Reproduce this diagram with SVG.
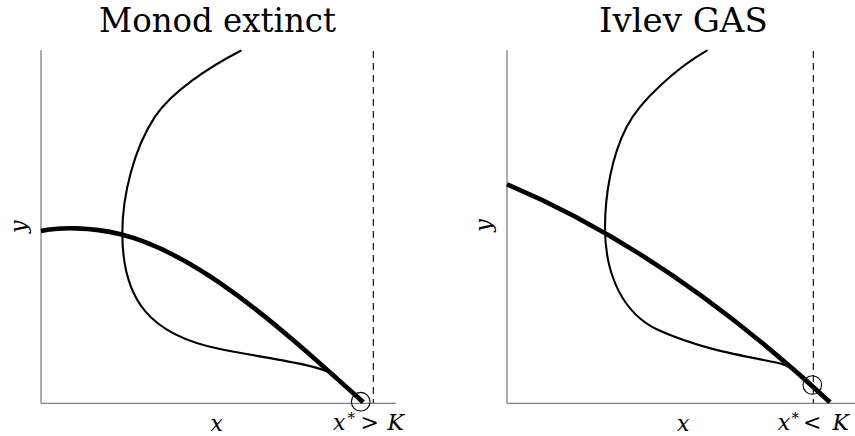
<svg xmlns="http://www.w3.org/2000/svg" width="855" height="436" viewBox="0 0 855 436">
<style>
.axis{stroke:#808080;stroke-width:1.3;fill:none}
.dash{stroke:#000;stroke-width:1.1;stroke-dasharray:7 5;fill:none}
.thin{stroke:#000;stroke-width:2.1;fill:none;stroke-linecap:round}
.thick{stroke:#000;stroke-width:4.6;fill:none}
.eq{stroke:#000;stroke-width:1.1;fill:none}
.title{font-family:"DejaVu Serif","Liberation Serif",serif;font-size:33px;fill:#000}
.lab{font-family:"DejaVu Serif","Liberation Serif",serif;font-style:italic;font-size:22px;fill:#000}
.up{font-family:"DejaVu Serif","Liberation Serif",serif;font-size:22px;fill:#000}
.sup{font-family:"DejaVu Serif","Liberation Serif",serif;font-size:15px;fill:#000}
</style>
<rect width="855" height="436" fill="#fff"/>
<g id="left-panel">
  <text class="title" x="99" y="32" textLength="237" lengthAdjust="spacingAndGlyphs">Monod extinct</text>
  <g id="left-axes">
    <line class="axis" x1="41" y1="50" x2="41" y2="403.3"/>
    <line class="axis" x1="41" y1="403.3" x2="395.7" y2="403.3"/>
    <line class="dash" x1="373.3" y1="51" x2="373.3" y2="403"/>
  </g>
  <g id="left-curves">
    <path class="thin" d="M240.7,50.7 C209.5,66.8 171.5,91.6 155,116.7 C134.1,148.4 122.3,195 122.3,233 C122.3,300 150,335 220,349 C270,359 315,364 333,374 C345,384 355,395 361,402"/>
    <path class="thick" d="M41,231 C60,227 90,227 120.7,234.3 C200.7,254.3 283.3,330.3 363.3,402.3"/>
    <circle class="eq" cx="360.7" cy="401.7" r="9.3"/>
  </g>
  <g id="left-labels">
    <text class="lab" x="216.7" y="431" text-anchor="middle">x</text>
    <text class="lab" x="333" y="430">x</text>
    <text class="sup" x="347.5" y="423">*</text>
    <text class="up" x="360.5" y="430">&gt;</text>
    <text class="lab" x="387.5" y="430">K</text>
    <text class="lab" transform="translate(26,226.7) rotate(-90)" text-anchor="middle">y</text>
  </g>
</g>
<g id="right-panel">
  <text class="title" x="599" y="32" textLength="168.7" lengthAdjust="spacingAndGlyphs">Ivlev GAS</text>
  <g id="right-axes">
    <line class="axis" x1="507" y1="50" x2="507" y2="403.3"/>
    <line class="axis" x1="507" y1="403.3" x2="855" y2="403.3"/>
    <line class="dash" x1="813.3" y1="51" x2="813.3" y2="403"/>
  </g>
  <g id="right-curves">
    <path class="thin" d="M706.7,50.7 C676.7,68.1 640.5,100 626.7,126.7 C611.5,156.1 605,195 605,228 C605,275 623.3,314 658.3,330 C698.3,348 735,354.3 775,362.3 C790,365.3 800,372 812,385"/>
    <path class="thick" d="M507,184.3 C614.7,229.5 722.3,302.2 830,402.3"/>
    <circle class="eq" cx="812.3" cy="385" r="9.3"/>
  </g>
  <g id="right-labels">
    <text class="lab" x="683.3" y="431" text-anchor="middle">x</text>
    <text class="lab" x="777.7" y="430">x</text>
    <text class="sup" x="791.5" y="423">*</text>
    <text class="up" x="803" y="430">&lt;</text>
    <text class="lab" x="832.5" y="430">K</text>
    <text class="lab" transform="translate(491,225.5) rotate(-90)" text-anchor="middle">y</text>
  </g>
</g>
</svg>
